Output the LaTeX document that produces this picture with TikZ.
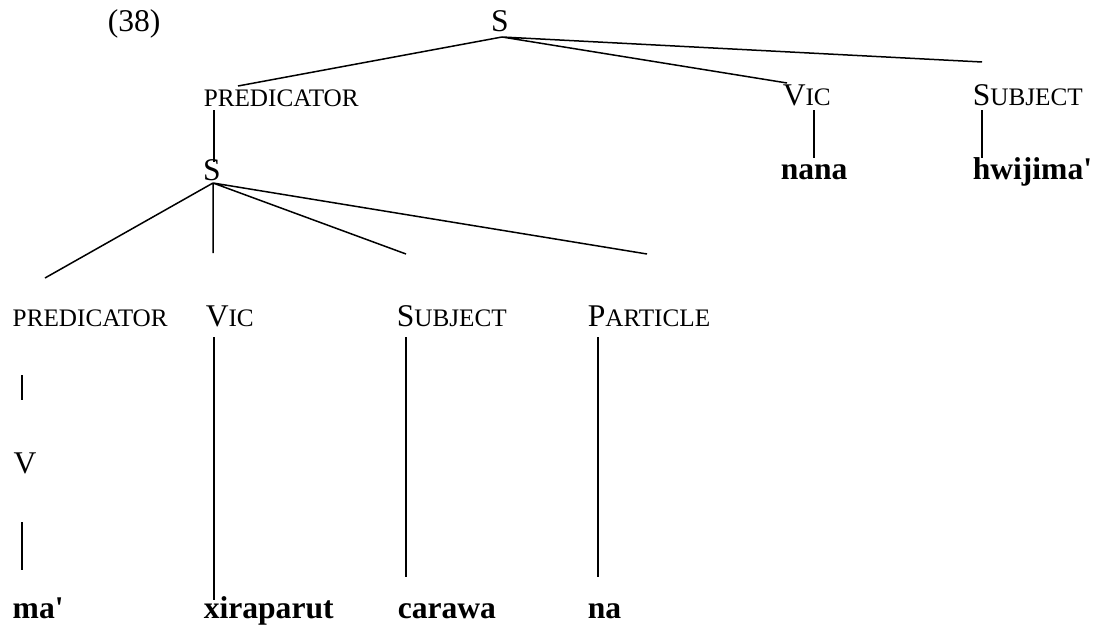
\documentclass[tikz,border=0pt]{standalone}
\usepackage{fontspec}
\setmainfont{Liberation Serif}
\usetikzlibrary{positioning}
\newcommand\smcap[2]{#1{\fontsize{12.6pt}{14pt}\selectfont #2}}

\begin{document}
\begin{tikzpicture}[x=0.5pt,y=-0.5pt,line width=0.75pt,
 lbl/.style={inner sep=0pt,anchor=base west,font=\fontsize{15.8pt}{18pt}\selectfont},
 word/.style={lbl,font=\fontsize{15.8pt}{18pt}\selectfont\bfseries}]
\useasboundingbox (0,0) rectangle (1095,631);
\node[lbl] (exno) at (107,32) {(38)};
% upper clause
\node[lbl,anchor=base] (s1) at (500,32) {S};
\node[lbl] (pred1) at (203,106) {\smcap{}{PREDICATOR}};
\node[lbl] (vic1) at (782,105) {\smcap{V}{IC}};
\node[lbl] (subj1) at (972,105) {\smcap{S}{UBJECT}};
\node[lbl,anchor=base] (s2) at (212,180) {S};
\node[word] (nana) at (780,179) {nana};
\node[word] (hwij) at (972,179) {hwijima\textquotesingle};
% embedded clause
\node[lbl] (pred2) at (12,326) {\smcap{}{PREDICATOR}};
\node[lbl] (vic2) at (205,326) {\smcap{V}{IC}};
\node[lbl] (subj2) at (396,326) {\smcap{S}{UBJECT}};
\node[lbl] (part2) at (587,326) {\smcap{P}{ARTICLE}};
\node[lbl] (verb) at (13,473) {V};
\node[word] (ma) at (12,618) {ma\textquotesingle};
\node[word] (xir) at (203,618) {xiraparut};
\node[word] (car) at (397,618) {carawa};
\node[word] (na) at (587,618) {na};
% line ends
\coordinate (s1foot) at (502,37);
\coordinate (pred1top) at (238,86);
\coordinate (vic1top) at (787,83);
\coordinate (subj1top) at (982,62);
\coordinate (pred1foot) at (214,110);
\coordinate (s2top) at (214,162);
\coordinate (vic1foot) at (814,110);
\coordinate (nanatop) at (814,158);
\coordinate (subj1foot) at (982,110);
\coordinate (hwijtop) at (982,158);
\coordinate (s2foot) at (213,183);
\coordinate (pred2top) at (45,278);
\coordinate (vic2top) at (213,253);
\coordinate (subj2top) at (406,254);
\coordinate (part2top) at (647,254);
\coordinate (pred2foot) at (22,375);
\coordinate (verbtop) at (22,400);
\coordinate (verbfoot) at (22,522);
\coordinate (matop) at (22,570);
\coordinate (vic2foot) at (214,337);
\coordinate (xirtop) at (214,600);
\coordinate (subj2foot) at (406,337);
\coordinate (cartop) at (406,577);
\coordinate (part2foot) at (598,337);
\coordinate (natop) at (598,577);
\draw (s1foot)--(pred1top) (s1foot)--(vic1top) (s1foot)--(subj1top);
\draw (pred1foot)--(s2top) (vic1foot)--(nanatop) (subj1foot)--(hwijtop);
\draw (s2foot)--(pred2top) (s2foot)--(vic2top) (s2foot)--(subj2top) (s2foot)--(part2top);
\draw (pred2foot)--(verbtop) (verbfoot)--(matop);
\draw (vic2foot)--(xirtop) (subj2foot)--(cartop) (part2foot)--(natop);
\end{tikzpicture}
\end{document}
